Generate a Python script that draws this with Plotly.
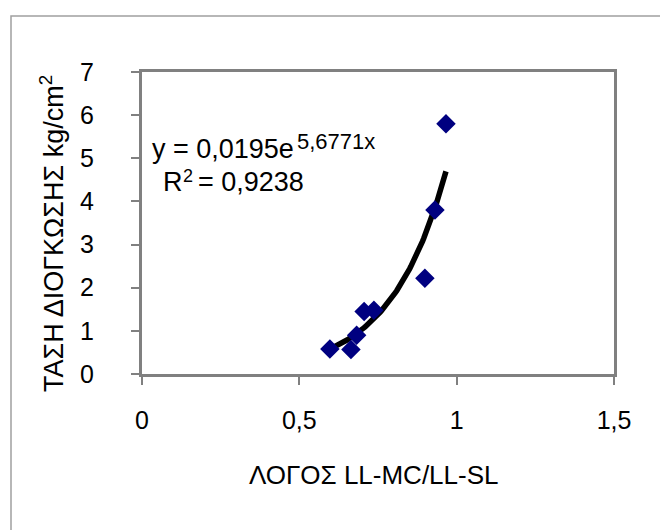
import numpy as np
import plotly.graph_objects as go

# ---- data ----
ratio = [0.597, 0.664, 0.682, 0.706, 0.737, 0.899, 0.931, 0.966]
stress = [0.58, 0.57, 0.90, 1.45, 1.48, 2.22, 3.80, 5.80]
trend_a = 0.0195
trend_b = 5.6771
r_squared = "0,9238"
x_ticks = [0, 0.5, 1, 1.5]
x_tick_labels = ["0", "0,5", "1", "1,5"]
y_ticks = [0, 1, 2, 3, 4, 5, 6, 7]
y_tick_labels = ["0", "1", "2", "3", "4", "5", "6", "7"]
x_title = "ΛΟΓΟΣ LL-MC/LL-SL"
y_title = "ΤΑΣΗ ΔΙΟΓΚΩΣΗΣ kg/cm<sup>2</sup>"

W, H = 660, 530
L, R, T, B = 142, 614, 72, 374
FONT = "Liberation Sans, Arial, sans-serif"
FS_TICK = 25
FS_TITLE = 26
FS_YTITLE = 27
FS_EQ = 27
FS_SUP = 22


def px(xp):
    return (xp - L) / (R - L)


def py(yp):
    return (B - yp) / (B - T)


def fmt(v):
    return f"{v:.4f}".replace(".", ",")


xt = np.linspace(min(ratio), max(ratio), 100)
yt = trend_a * np.exp(trend_b * xt)

fig = go.Figure()
fig.add_trace(go.Scatter(x=xt, y=yt, mode="lines",
                         line=dict(color="black", width=5.5), hoverinfo="skip"))
fig.add_trace(go.Scatter(x=ratio, y=stress, mode="markers",
                         marker=dict(symbol="diamond", size=15, color="#000080",
                                     line=dict(width=0))))

axis_common = dict(showline=True, mirror=True, linecolor="#808080", linewidth=3,
                   ticks="outside", ticklen=8, tickwidth=1.5, tickcolor="#808080",
                   showgrid=False, zeroline=False,
                   tickfont=dict(family=FONT, size=FS_TICK, color="black"))

fig.update_layout(
    width=W, height=H,
    margin=dict(l=L, r=W - R, t=T, b=H - B),
    paper_bgcolor="white", plot_bgcolor="white",
    showlegend=False,
    font=dict(family=FONT, size=FS_TICK, color="black"),
    xaxis=dict(range=[0, 1.5], tickvals=x_ticks, ticktext=x_tick_labels,
               ticklabelstandoff=14, **axis_common),
    yaxis=dict(range=[0, 7], tickvals=y_ticks, ticktext=y_tick_labels,
               ticklabelstandoff=32, **axis_common),
)

# outer chart frame
fig.add_shape(type="rect", xref="paper", yref="paper",
              x0=px(11), x1=px(700), y0=py(16), y1=py(600),
              line=dict(color="#a0a0a0", width=1.5), layer="below")


def note(text, x, y, size, angle=0, xanchor="left"):
    fig.add_annotation(text=text, xref="paper", yref="paper", textangle=angle,
                       x=px(x), y=py(y), xanchor=xanchor, yanchor="middle",
                       showarrow=False, borderpad=0,
                       font=dict(family=FONT, size=size, color="black"))


note(x_title, 374, 475, FS_TITLE, xanchor="center")
note(y_title, 52, 234, FS_YTITLE, angle=-90, xanchor="center")

# trendline equation
note("y = " + fmt(trend_a) + "e", 151, 149, FS_EQ)
note(fmt(trend_b) + "x", 296, 141, FS_SUP)
note("R", 162, 182, FS_EQ)
note("2", 182, 176, 18)
note("= " + r_squared, 197, 182, FS_EQ)

fig.write_html("out.html")
